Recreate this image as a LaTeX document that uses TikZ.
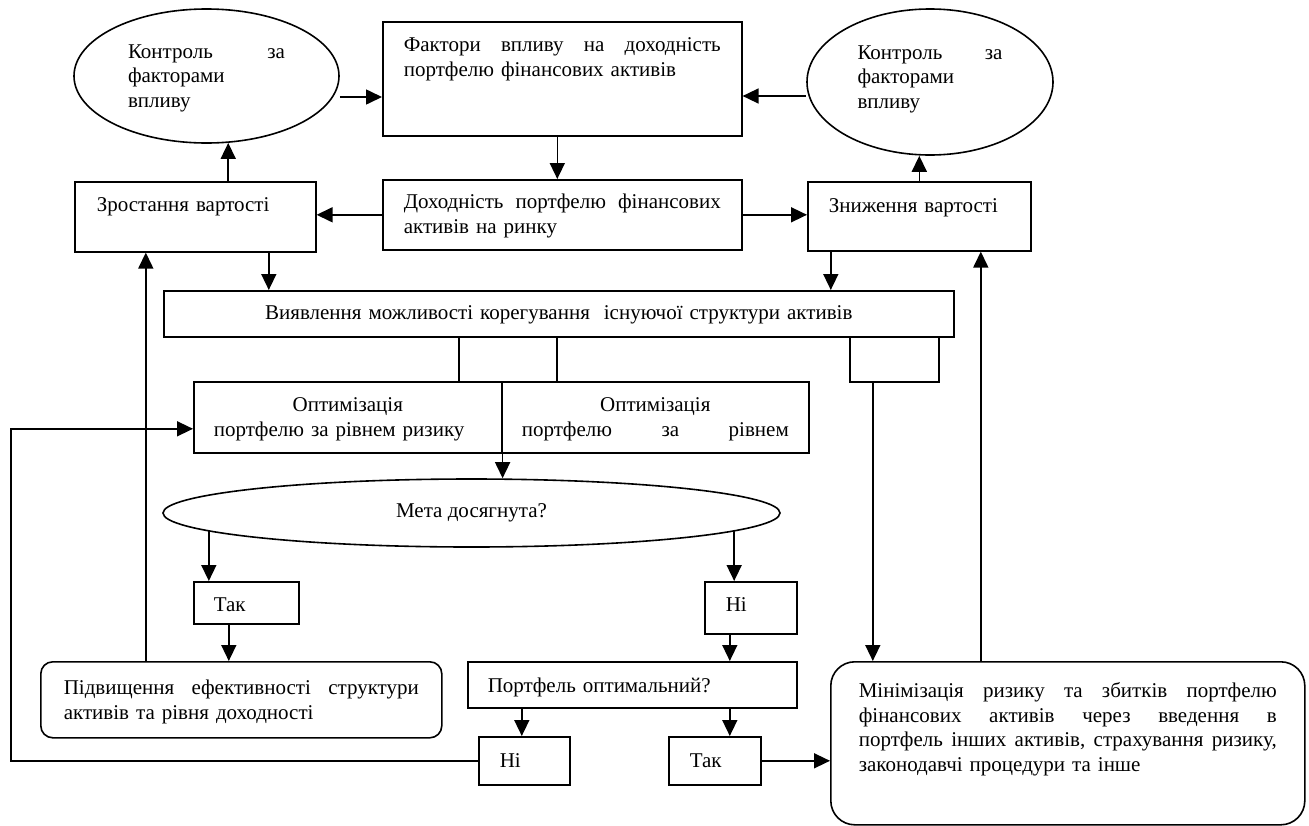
\documentclass[tikz,border=0pt]{standalone}
\usepackage{fontspec}
\setmainfont{Liberation Serif}
\usetikzlibrary{shapes.geometric,arrows.meta}
\tikzset{
	blok/.style={draw, anchor=north west, inner ysep=0pt, align=left},
	oval/.style={draw, ellipse, inner sep=0pt, align=left}
}
\begin{document}
\begin{tikzpicture}[x=1pt, y=-1pt, line width=1.6pt, >={Triangle[length=16pt,width=15pt]}, font=\fontsize{21}{24.5}\selectfont]
			\useasboundingbox (0,0) rectangle (1309,825);
			\node	(kontrL) at (206.5,76) [oval, minimum width=265pt, minimum height=134pt, text width=157pt, text height=14pt, text depth=50pt] {Контроль\hfill за\\факторами\\впливу};
			\node	(fact) at (382,21) [blok, text width=317pt, inner xsep=21pt, text height=30pt, text depth=84pt] {Фактори\hfill впливу\hfill на\hfill доходність\\портфелю фінансових активів};
			\node	(kontrR) at (930,82) [oval, minimum width=246pt, minimum height=146pt, text width=145pt, text height=14pt, text depth=60pt] {Контроль\hfill за\\факторами\\впливу};
			\node	(zrost) at (74,181) [blok, text width=197pt, inner xsep=22pt, text height=30pt, text depth=40pt] {Зростання вартості};
			\node	(dokh) at (382,179) [blok, text width=317pt, inner xsep=21pt, text height=29pt, text depth=41pt] {Доходність\hfill портфелю\hfill фінансових\\активів на ринку};
			\node	(znyzh) at (807,181) [blok, text width=181pt, inner xsep=21pt, text height=31pt, text depth=38pt] {Зниження вартості};
			\node	(vyyav) at (163,290) [blok, align=center, text width=750pt, inner xsep=20pt, text height=29pt, text depth=17pt] {Виявлення можливості корегування~ існуючої структури активів};
			\node	(pust) at (849,336) [blok, inner sep=0pt, minimum width=89pt, minimum height=45pt] {};
			\node	(opt1) at (193,381) [blok, align=center, text width=268pt, inner xsep=20pt, text height=30pt, text depth=41pt] {Оптимізація\\портфелю за рівнем ризику\hfill\null};
			\node	(opt2) at (501,381) [blok, align=center, text width=267pt, inner xsep=20pt, text height=30pt, text depth=41pt] {Оптимізація\\портфелю\hfill за\hfill рівнем};
			\node	(meta) at (471.5,513) [oval, minimum width=617pt, minimum height=68pt] {Мета досягнута?};
			\node	(tak1) at (193,581) [blok, text width=65pt, inner xsep=20pt, text height=30pt, text depth=12pt] {Так};
			\node	(ni1) at (704,581) [blok, text width=50pt, inner xsep=21pt, text height=30pt, text depth=22pt] {Ні};
			\node	(pidv) at (40,661) [blok, rounded corners=12pt, text width=355pt, inner xsep=23pt, text height=33pt, text depth=43pt] {Підвищення\hfill ефективності\hfill структури\\активів та рівня доходності};
			\node	(port) at (467,661) [blok, text width=289pt, inner xsep=20pt, text height=31pt, text depth=15pt] {Портфель оптимальний?};
			\node	(ni2) at (478,736) [blok, text width=49pt, inner xsep=21pt, text height=31pt, text depth=17pt] {Ні};
			\node	(tak2) at (668,736) [blok, text width=50pt, inner xsep=21pt, text height=31pt, text depth=17pt] {Так};
			\node	(mini) at (830,661) [blok, rounded corners=24pt, text width=418pt, inner xsep=28pt, text height=36pt, text depth=127pt] {Мінімізація\hfill ризику\hfill та\hfill збитків\hfill портфелю\\фінансових\hfill активів\hfill через\hfill введення\hfill в\\портфель\hfill інших\hfill активів,\hfill страхування\hfill ризику,\\законодавчі процедури та інше};
			
			\draw 
			([yshift=-21pt]kontrL.east) edge[->] ([yshift=-21pt]kontrL.east -| fact.west)
			([yshift=-14pt]kontrR.west) edge[->] ([yshift=-14pt]kontrR.west -| fact.east)
			([xshift=-5pt]fact.south) edge[->] ([xshift=-5pt]fact.south |- dokh.north)
			(dokh.west) edge[->] (dokh.west -| zrost.east)
			(dokh.east) edge[->] (dokh.east -| znyzh.west)
			(kontrL.-72 |- zrost.north) edge[->] (kontrL.-72)
			(znyzh.north) edge[->] (znyzh.north |- kontrR.south)
			([xshift=73.5pt]zrost.south) edge[->] ([xshift=73.5pt]zrost.south |- vyyav.north)
			([xshift=-88.5pt]znyzh.south) edge[->] ([xshift=-88.5pt]znyzh.south |- vyyav.north)
			([xshift=-100pt]vyyav.south) edge ([xshift=-100pt]vyyav.south |- opt1.north)
			([xshift=-2pt]vyyav.south) edge ([xshift=-2pt]vyyav.south |- opt2.north)
			([xshift=-21.5pt]pust.south) edge[->] ([xshift=-21.5pt]pust.south |- mini.north)
			([xshift=-87pt]mini.north) edge[->] ([xshift=-87pt]mini.north |- znyzh.south)
			(opt1.north east) edge[->] (opt1.north east |- meta.north)
			(meta.184.9) edge[->] (meta.184.9 |- tak1.north)
			(meta.-4.16) edge[->] (meta.-4.16 |- ni1.north)
			([xshift=-17.5pt]tak1.south) edge[->] ([xshift=-17.5pt]tak1.south |- pidv.north)
			([xshift=-95.5pt]pidv.north) edge[->] ([xshift=-95.5pt]pidv.north |- zrost.south)
			([xshift=-21pt]ni1.south) edge[->] ([xshift=-21pt]ni1.south |- port.north)
			([xshift=-110.5pt]port.south) edge[->] ([xshift=-110.5pt]port.south |- ni2.north)
			([xshift=97.5pt]port.south) edge[->] ([xshift=97.5pt]port.south |- tak2.north)
			(tak2.east) edge[->] (tak2.east -| mini.west)
			;
			\draw[->] (ni2.west) -- ++(-467,0) |- ([yshift=-11.5pt]opt1.west);
		\end{tikzpicture}
\end{document}
